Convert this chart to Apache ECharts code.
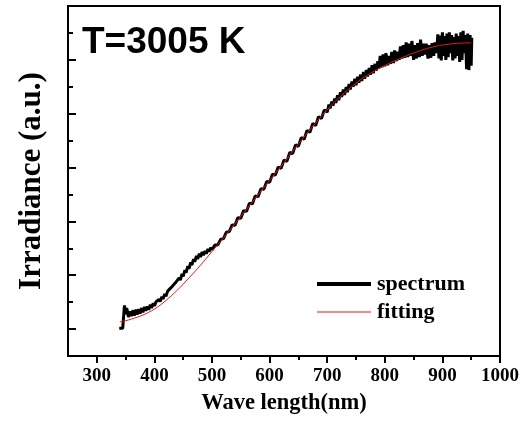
<!DOCTYPE html>
<html>
<head>
<meta charset="utf-8">
<script src="https://cdn.jsdelivr.net/npm/echarts@6/dist/echarts.min.js"></script>
<style>
html,body{margin:0;padding:0;background:#fff;}
#chart{width:522px;height:426px;}
</style>
</head>
<body>
<div id="chart"></div>
<script>
// ---- data ----
var xTickValues = [300, 400, 500, 600, 700, 800, 900, 1000];
var xMinorTickValues = [350, 450, 550, 650, 750, 850, 950];
var yTickValues = [0, 2, 4, 6, 8, 10];
var yMinorTickValues = [1, 3, 5, 7, 9, 11];

var spectrumWl = [339,345,347,348,350,352,355,358,360,363,365,368,370,373,375,378,380,383,385,388,390,393,395,398,400,
  403,405,408,410,413,415,418,420,423,425,428,430,433,435,438,440,443,445,448,450,453,455,458,460,463,465,468,470,473,475,478,480,483,485,488,490,493,495,498,500,
  505,510,515,520,525,530,
  535,540,545,550,555,560,565,570,575,580,585,590,595,600,605,610,615,620,625,630,635,640,645,650,655,660,665,670,675,680,685,690,695,700,
  703,705,708,710,713,715,718,720,723,725,728,730,733,735,738,740,743,745,748,750,753,755,758,760,763,765,768,770,773,775,778,780,783,785,788,790,
  792,795,797,800,802,805,807,810,812,815,817,820,822,825,827,830,832,835,837,840,842,845,847,850,852,855,857,860,862,865,867,870,
  872,875,877,880,882,885,887,890,
  892,894,896,898,900,902,904,906,908,910,912,914,916,918,920,922,924,926,928,930,932,934,936,938,940,
  942,944,946,948,950,951];
var spectrumVal = [0.03,0.03,0.03,0.88,0.55,0.78,0.45,0.66,0.48,0.70,0.50,0.72,0.54,0.74,0.58,0.78,0.62,0.82,0.68,0.84,0.72,0.90,0.78,0.96,0.86,
  1.02,0.95,1.10,1.02,1.20,1.12,1.30,1.22,1.41,1.34,1.52,1.46,1.64,1.58,1.76,1.70,1.90,1.82,2.05,1.96,2.19,2.10,2.34,2.24,2.48,2.38,2.60,2.50,2.72,2.60,2.80,2.68,2.86,2.74,2.90,2.80,2.97,2.88,3.03,2.95,
  3.12,3.12,3.33,3.36,3.60,3.62,
  3.87,3.86,4.14,4.12,4.40,4.38,4.67,4.65,4.94,4.92,5.21,5.19,5.48,5.45,5.75,5.72,6.02,5.97,6.28,6.23,6.56,6.52,6.84,6.79,7.11,7.05,7.38,7.31,7.64,7.56,7.89,7.82,8.14,8.06,
  8.34,8.20,8.45,8.30,8.56,8.40,8.68,8.50,8.79,8.62,8.90,8.70,8.99,8.80,9.10,8.90,9.19,9.00,9.30,9.06,9.37,9.15,9.45,9.22,9.55,9.30,9.62,9.38,9.70,9.45,9.80,9.50,9.85,9.60,9.95,9.68,
  10.15,9.72,10.20,9.76,10.25,9.80,10.15,9.85,10.30,9.88,10.35,9.95,10.30,10.00,10.50,10.05,10.55,10.08,10.65,10.10,10.60,10.15,10.70,10.00,10.55,10.05,10.62,10.10,10.75,10.15,10.60,10.20,
  10.60,10.05,10.55,10.08,10.62,10.15,10.65,10.25,
  10.95,10.05,10.90,9.98,11.02,10.15,10.88,10.00,10.98,10.10,11.02,10.25,10.92,9.98,10.85,10.05,10.98,10.15,10.88,9.92,11.02,10.00,11.08,10.25,10.92,
  9.65,10.98,9.62,10.92,9.78,10.82];

var fitWl = [340,350,360,370,380,390,400,410,420,430,440,450,460,470,480,490,500,510,520,530,540,550,560,570,580,590,600,
  610,620,630,640,650,660,670,680,690,700,710,720,730,740,750,760,770,780,790,800,810,820,830,840,850,860,870,880,890,900,910,920,930,940,950];
var fitVal = [0.27,0.31,0.37,0.44,0.52,0.62,0.74,0.89,1.06,1.25,1.45,1.67,1.90,2.13,2.37,2.62,2.88,3.13,3.39,3.65,3.92,4.18,4.45,4.72,4.99,5.26,5.52,
  5.79,6.05,6.32,6.60,6.87,7.14,7.40,7.66,7.91,8.15,8.37,8.58,8.78,8.96,9.13,9.29,9.43,9.56,9.68,9.79,9.89,9.99,10.08,10.17,10.25,10.33,10.40,10.46,10.51,10.55,10.58,10.60,10.62,10.63,10.63];

function pairs(xs, ys) { var out = []; for (var i = 0; i < xs.length; i++) out.push([xs[i], ys[i]]); return out; }

var serif = '"Times New Roman","Liberation Serif",serif';
var chart = echarts.init(document.getElementById('chart'), null, {renderer: 'canvas'});
var option = {
  animation: false,
  backgroundColor: '#fff',
  title: {
    text: 'T=3005 K',
    left: 82, top: 24,
    padding: 0,
    textStyle: {fontFamily: '"Liberation Sans",Arial,sans-serif', fontWeight: 'bold', fontSize: 37, color: '#000'}
  },
  grid: {left: 68, right: 22, top: 6, bottom: 70, show: true, borderColor: '#000', borderWidth: 2, backgroundColor: 'transparent'},
  legend: [
    {data: [{name: 'spectrum', icon: 'rect', itemStyle: {color: '#000'}}],
     left: 317, top: 273, padding: 0, itemWidth: 54, itemHeight: 4, itemGap: 0,
     textStyle: {fontFamily: serif, fontWeight: 'bold', fontSize: 22, color: '#000', padding: [0,0,0,1]}},
    {data: [{name: 'fitting', icon: 'rect', itemStyle: {color: '#e41a1c'}}],
     left: 317, top: 301, padding: 0, itemWidth: 54, itemHeight: 1, itemGap: 0,
     textStyle: {fontFamily: serif, fontWeight: 'bold', fontSize: 22, color: '#000', padding: [0,0,0,1]}}
  ],
  xAxis: [
    {type: 'value', min: 250, max: 1000, position: 'bottom',
     name: 'Wave length(nm)', nameLocation: 'middle', nameGap: 36,
     nameTextStyle: {fontFamily: serif, fontWeight: 'bold', fontSize: 22.5, color: '#000'},
     axisLine: {show: true, onZero: false, lineStyle: {color: '#000', width: 2}},
     axisTick: {show: true, inside: false, length: 7, lineStyle: {color: '#000', width: 2}, customValues: xTickValues},
     axisLabel: {show: true, margin: 11, fontFamily: serif, fontWeight: 'bold', fontSize: 19, color: '#000', customValues: xTickValues,
       formatter: function (v) { return String(v); }},
     splitLine: {show: false}},
    {type: 'value', min: 250, max: 1000, position: 'bottom',
     axisLine: {show: false, onZero: false},
     axisTick: {show: true, inside: false, length: 4, lineStyle: {color: '#000', width: 2}, customValues: xMinorTickValues},
     axisLabel: {show: false},
     splitLine: {show: false}}
  ],
  yAxis: [
    {type: 'value', min: -1, max: 12, position: 'left',
     name: 'Irradiance (a.u.)', nameLocation: 'middle', nameGap: 21, nameRotate: 90,
     nameTextStyle: {fontFamily: serif, fontWeight: 'bold', fontSize: 31, color: '#000'},
     axisLine: {show: true, onZero: false, lineStyle: {color: '#000', width: 2}},
     axisTick: {show: true, inside: true, length: 8, lineStyle: {color: '#000', width: 2}, customValues: yTickValues},
     axisLabel: {show: false},
     splitLine: {show: false}},
    {type: 'value', min: -1, max: 12, position: 'left',
     axisLine: {show: false, onZero: false},
     axisTick: {show: true, inside: true, length: 5, lineStyle: {color: '#000', width: 2}, customValues: yMinorTickValues},
     axisLabel: {show: false},
     splitLine: {show: false}}
  ],
  series: [
    {name: 'spectrum', type: 'line', xAxisIndex: 0, yAxisIndex: 0, showSymbol: false, symbol: 'none',
     data: pairs(spectrumWl, spectrumVal),
     lineStyle: {color: '#000', width: 3}, itemStyle: {color: '#000'}, z: 2},
    {name: 'fitting', type: 'line', xAxisIndex: 0, yAxisIndex: 0, showSymbol: false, symbol: 'none', smooth: 0.3,
     data: pairs(fitWl, fitVal),
     lineStyle: {color: '#e41a1c', width: 1}, itemStyle: {color: '#e41a1c'}, z: 3}
  ]
};
chart.setOption(option);
</script>
</body>
</html>
